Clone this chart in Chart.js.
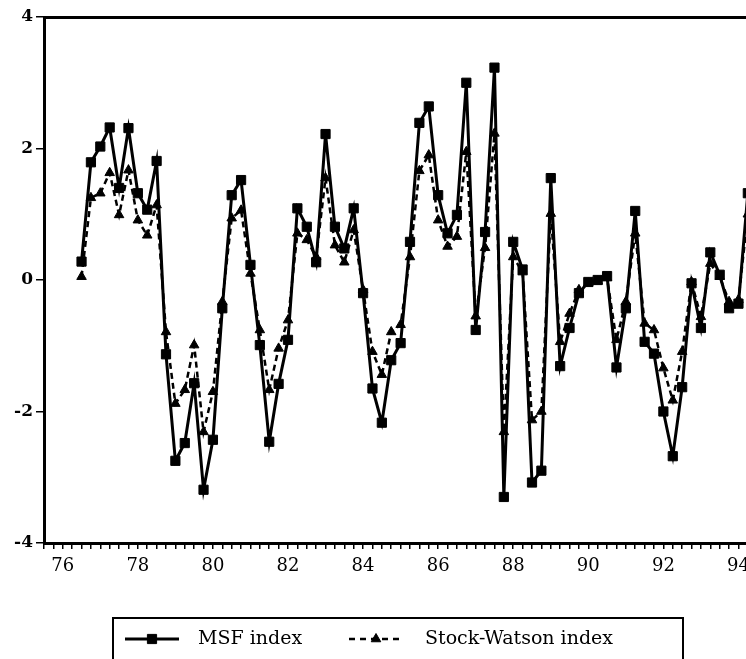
<!DOCTYPE html>
<html>
<head>
<meta charset="utf-8">
<script src="https://cdn.jsdelivr.net/npm/chart.js@4.4.1/dist/chart.umd.min.js"></script>
<style>
  html, body { margin: 0; padding: 0; background: #fff; overflow: hidden; }
  #marco { width: 790px; height: 659px; }
</style>
</head>
<body>
<div id="marco"><canvas id="grafico" width="790" height="659"></canvas></div>
<script>
// índices trimestrales, 1976:3 a 1994:2
const msf = [
  0.28, 1.79, 2.03, 2.32, 1.40, 2.31, 1.32, 1.07, 1.81, -1.13,
  -2.75, -2.48, -1.57, -3.19, -2.43, -0.43, 1.29, 1.52, 0.23, -0.99,
  -2.46, -1.58, -0.91, 1.09, 0.81, 0.27, 2.22, 0.81, 0.48, 1.09,
  -0.20, -1.65, -2.17, -1.22, -0.96, 0.58, 2.39, 2.64, 1.29, 0.71,
  0.99, 3.00, -0.76, 0.73, 3.23, -3.30, 0.58, 0.16, -3.08, -2.90,
  1.55, -1.31, -0.73, -0.20, -0.03, 0.00, 0.06, -1.33, -0.43, 1.05,
  -0.94, -1.12, -2.00, -2.68, -1.63, -0.05, -0.73, 0.42, 0.08, -0.43,
  -0.36, 1.32
];
const stockWatson = [
  0.05, 1.25, 1.32, 1.63, 0.99, 1.67, 0.91, 0.68, 1.14, -0.79,
  -1.88, -1.67, -0.99, -2.31, -1.70, -0.33, 0.94, 1.06, 0.10, -0.76,
  -1.67, -1.04, -0.61, 0.71, 0.61, 0.35, 1.55, 0.53, 0.27, 0.76,
  -0.15, -1.09, -1.44, -0.79, -0.68, 0.35, 1.66, 1.90, 0.91, 0.51,
  0.66, 1.95, -0.55, 0.49, 2.23, -2.31, 0.35, 0.12, -2.13, -2.00,
  1.01, -0.94, -0.51, -0.15, -0.05, -0.02, 0.03, -0.91, -0.33, 0.71,
  -0.66, -0.76, -1.34, -1.83, -1.09, -0.03, -0.56, 0.25, 0.05, -0.33,
  -0.30, 1.00
];
const primerAnio = 1976;
const primerTrimestre = 3;
const etiquetasY = [-4, -2, 0, 2, 4];
const nombres = ['MSF index', 'Stock-Watson index'];

// posición de cada trimestre sobre el eje de años
const trimestres = msf.map((_, i) => {
  const t = primerTrimestre - 1 + i;
  return primerAnio + Math.floor(t / 4) + (t % 4) / 4;
});
const puntos = serie => serie.map((v, i) => ({ x: trimestres[i], y: v }));

const fuente = 'DejaVu Serif';

// leyenda en recuadro bajo el eje: línea de muestra + marcador + texto
const leyenda = {
  id: 'leyenda',
  afterDraw(chart) {
    const ctx = chart.ctx;
    ctx.save();
    ctx.strokeStyle = '#000';
    ctx.lineWidth = 2;
    ctx.strokeRect(113, 618, 570, 70);
    const y = 639;
    const muestras = [
      { x0: 125, x1: 179, dash: [], ancho: 3, estilo: 'rect', r: 6.5, tx: 198 },
      { x0: 349, x1: 403, dash: [6, 5], ancho: 2.5, estilo: 'triangle', r: 5.5, tx: 425 }
    ];
    muestras.forEach((m, i) => {
      ctx.beginPath();
      ctx.setLineDash(m.dash);
      ctx.lineWidth = m.ancho;
      ctx.moveTo(m.x0, y);
      ctx.lineTo(m.x1, y);
      ctx.stroke();
      ctx.setLineDash([]);
      ctx.fillStyle = '#000';
      ctx.lineWidth = 1;
      Chart.helpers.drawPoint(ctx, { pointStyle: m.estilo, radius: m.r, borderWidth: 1 }, (m.x0 + m.x1) / 2, y);
      ctx.font = '19px "' + fuente + '"';
      ctx.textBaseline = 'middle';
      ctx.fillText(nombres[i], m.tx, y);
    });
    ctx.restore();
  }
};

new Chart(document.getElementById('grafico'), {
  type: 'line',
  data: {
    datasets: [{
      label: nombres[0],
      data: puntos(msf),
      borderColor: '#000',
      backgroundColor: '#000',
      borderWidth: 3,
      pointStyle: 'rect',
      pointRadius: 6.5,
      pointBorderWidth: 1,
      tension: 0
    }, {
      label: nombres[1],
      data: puntos(stockWatson),
      borderColor: '#000',
      backgroundColor: '#000',
      borderWidth: 2.5,
      borderDash: [6, 4],
      pointStyle: 'triangle',
      pointRadius: 5.5,
      pointBorderWidth: 1,
      tension: 0
    }]
  },
  options: {
    responsive: false,
    animation: false,
    devicePixelRatio: 1,
    layout: { padding: { top: 17, bottom: 76, left: 0, right: 14 } },
    plugins: { legend: { display: false }, tooltip: { enabled: false } },
    scales: {
      x: {
        type: 'linear',
        position: 'bottom',
        min: 1975.5,
        max: 1995,
        afterFit: s => { s.height = 40; },
        grid: { drawOnChartArea: false, tickLength: 6, color: '#000', lineWidth: 1.5 },
        border: { color: '#000', width: 3 },
        ticks: {
          stepSize: 0.25,
          autoSkip: false,
          maxRotation: 0,
          padding: 7,
          color: '#000',
          font: { family: fuente, size: 18 },
          callback: v => (Number.isInteger(v) && v % 2 === 0) ? String(v).slice(2) : ''
        }
      },
      xArriba: {
        type: 'linear',
        position: 'top',
        min: 1975.5,
        max: 1995,
        afterFit: s => { s.height = 0; },
        grid: { display: false, drawTicks: false },
        border: { color: '#000', width: 3 },
        ticks: { display: false }
      },
      y: {
        min: -4,
        max: 4,
        afterFit: s => { s.width = 44; },
        afterBuildTicks: s => { s.ticks = etiquetasY.map(v => ({ value: v })); },
        grid: { drawOnChartArea: false, tickLength: 8, color: '#000', lineWidth: 1.5 },
        border: { color: '#000', width: 3 },
        ticks: {
          padding: 3,
          color: '#000',
          font: { family: fuente, size: 17, weight: 'bold' }
        }
      }
    }
  },
  plugins: [leyenda]
});
</script>
</body>
</html>
